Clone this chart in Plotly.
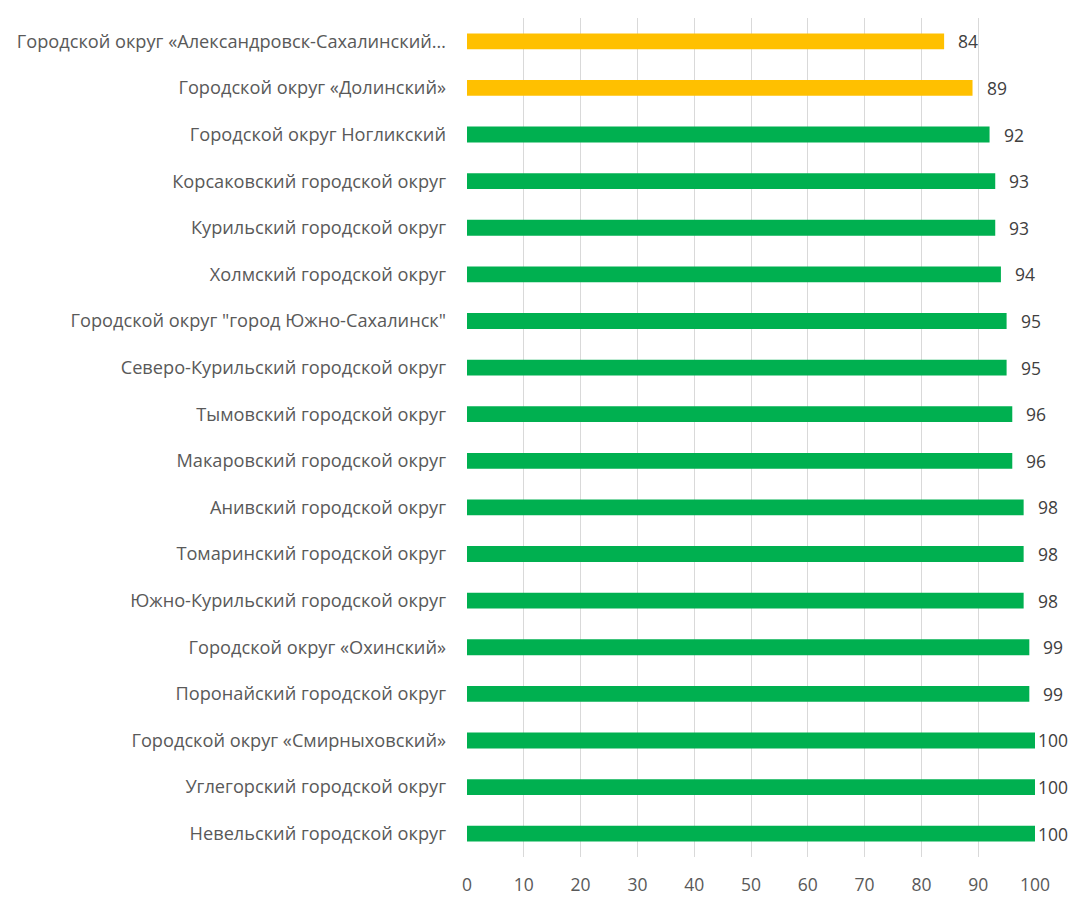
import plotly.graph_objects as go

categories = [
    "Городской округ «Александровск-Сахалинский…",
    "Городской округ «Долинский»",
    "Городской округ Ногликский",
    "Корсаковский городской округ",
    "Курильский городской округ",
    "Холмский городской округ",
    "Городской округ \"город Южно-Сахалинск\"",
    "Северо-Курильский городской округ",
    "Тымовский городской округ",
    "Макаровский городской округ",
    "Анивский городской округ",
    "Томаринский городской округ",
    "Южно-Курильский городской округ",
    "Городской округ «Охинский»",
    "Поронайский городской округ",
    "Городской округ «Смирныховский»",
    "Углегорский городской округ",
    "Невельский городской округ",
]
values = [84, 89, 92, 93, 93, 94, 95, 95, 96, 96, 98, 98, 98, 99, 99, 100, 100, 100]
highlight = [True, True] + [False] * 16

YELLOW = "#FFC000"
GREEN = "#00B050"
colors = [YELLOW if h else GREEN for h in highlight]

FONT = "Open Sans"

fig = go.Figure(go.Bar(
    x=values, y=categories, orientation="h",
    marker=dict(color=colors, line=dict(width=0)),
    width=0.34,
    hoverinfo="x+y",
))

for c, v in zip(categories, values):
    fig.add_annotation(x=v, y=c, text=str(v), showarrow=False,
                       xanchor="left", xshift=12 if v < 100 else 1,
                       font=dict(family=FONT, size=17.5, color="#404040"))

fig.update_layout(
    width=1069, height=907,
    margin=dict(l=467, r=34, t=18, b=50),
    paper_bgcolor="white", plot_bgcolor="white",
    showlegend=False,
    font=dict(family=FONT, size=18, color="#595959"),
    xaxis=dict(range=[0, 100], dtick=10, tick0=0, showgrid=True, gridcolor="#D9D9D9",
               gridwidth=1, zeroline=False, showline=False, ticks="",
               automargin=False,
               tickfont=dict(family=FONT, size=17.5, color="#595959"), ticklabelstandoff=15),
    yaxis=dict(categoryorder="array", categoryarray=categories, autorange="reversed",
               showgrid=False, zeroline=False, showline=False, ticks="",
               ticklabelstandoff=20, automargin=False,
               tickfont=dict(family=FONT, size=18.2, color="#595959")),
)

fig.write_html("out.html",
               config={"displayModeBar": False},
               post_script="document.body.style.margin='0';document.body.style.overflow='hidden';")
